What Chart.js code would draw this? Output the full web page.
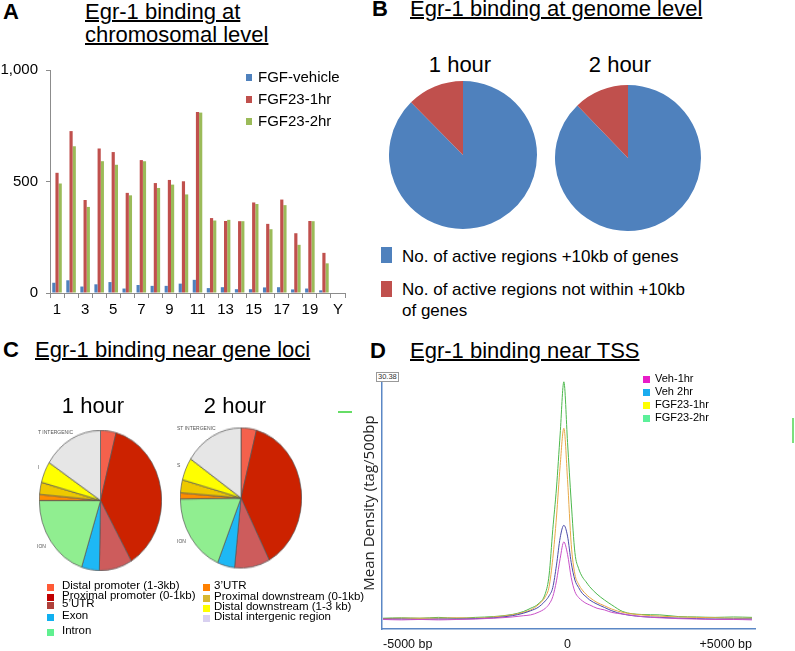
<!DOCTYPE html>
<html lang="en">
<head>
  <meta charset="UTF-8">
  <title>Egr-1 binding</title>
  <script src="https://cdn.jsdelivr.net/npm/chart.js"></script>
  <style>
    body { margin: 0; width: 795px; height: 651px; position: relative; overflow: hidden; background: #fff;
           font-family: "Liberation Sans", Arial, sans-serif; color: #000; }
    .abs { position: absolute; white-space: nowrap; }
    .letter { font-weight: bold; font-size: 22px; line-height: 23px; }
    .title { font-size: 22px; line-height: 23px; text-decoration: underline; text-decoration-thickness: 1.5px; }
    .sw { position: absolute; }
    .tiny { position: absolute; font-size: 5px; color: #555; white-space: nowrap; }
    .box { position: absolute; }
  </style>
</head>
<body>
  <div class="abs letter" style="left:3px;top:0px">A</div>
  <div class="abs title" style="left:85px;top:0px">Egr-1 binding at<br>chromosomal level</div>
  <div class="abs letter" style="left:372px;top:-3px">B</div>
  <div class="abs title" style="left:410px;top:-3px">Egr-1 binding at genome level</div>
  <div class="abs letter" style="left:3px;top:338px">C</div>
  <div class="abs title" style="left:35px;top:338px">Egr-1 binding near gene loci</div>
  <div class="abs letter" style="left:370px;top:339px">D</div>
  <div class="abs title" style="left:410px;top:339px">Egr-1 binding near TSS</div>

  <div class="box" style="left:0;top:53px;width:355px;height:270px"><canvas id="chartA"></canvas></div>
  <div class="box" style="left:389px;top:81px;width:148px;height:148px"><canvas id="chartB1"></canvas></div>
  <div class="box" style="left:555px;top:85px;width:146px;height:146px"><canvas id="chartB2"></canvas></div>
  <div class="box" style="left:39px;top:439px;width:123px;height:123px;transform:scaleY(1.146)"><canvas id="chartC1"></canvas></div>
  <div class="box" style="left:180px;top:437px;width:122px;height:122px;transform:scaleY(1.156)"><canvas id="chartC2"></canvas></div>
  <div class="box" style="left:361px;top:367px;width:399px;height:283px"><canvas id="chartD"></canvas></div>

  <div class="tiny" style="left:38px;top:429px">T INTERGENIC</div>
  <div class="tiny" style="left:38px;top:464px">I</div>
  <div class="tiny" style="left:37px;top:543px">ION</div>
  <div class="tiny" style="left:177px;top:425px">ST INTERGENIC</div>
  <div class="tiny" style="left:177px;top:462px">S</div>
  <div class="tiny" style="left:177px;top:538px">ION</div>

  <div id="yMaxLabel" class="abs" style="left:376px;top:372px;font-size:7.5px;line-height:8px;border:1px solid #999;background:#fff;color:#333;padding:0 1px;z-index:2"></div>
  <div class="abs" style="left:338px;top:411px;width:14px;height:1.5px;background:#66dd66"></div>
  <div class="abs" style="left:792px;top:418px;width:2px;height:25px;background:#7ce07c"></div>

  <div id="labels"></div>

  <script>
    // ---- A: peaks per chromosome
    const chromosomes = ['1','2','3','4','5','6','7','8','9','10','11','12','13','14','15','16','17','18','19','X','Y'];
    const vehicleCounts = [46, 57, 29, 39, 49, 20, 36, 32, 32, 42, 59, 22, 26, 17, 17, 25, 26, 16, 20, 12, 0];
    const fgf1hCounts = [539, 726, 417, 648, 632, 449, 596, 493, 507, 501, 812, 336, 323, 322, 406, 310, 419, 268, 323, 180, 0];
    const fgf2hCounts = [491, 658, 386, 591, 575, 438, 591, 471, 486, 442, 809, 325, 328, 322, 399, 286, 394, 216, 322, 133, 0];
    const barSeries = ['FGF-vehicle', 'FGF23-1hr', 'FGF23-2hr'];
    const barColors = ['#4f81bd', '#c0504d', '#9bbb59'];

    // ---- B: genome level (percent of regions)
    const genomeLabels = ['No. of active regions +10kb of genes', 'No. of active regions not within +10kb of genes'];
    const genomeColors = ['#4f81bd', '#c0504d'];
    const genome1h = [87.6, 12.4];
    const genome2h = [87.8, 12.2];

    // ---- C: gene loci (percent)
    const lociLabels = ['Distal promoter (1-3kb)', 'Proximal promoter (0-1kb)', '5’UTR', 'Exon', 'Intron',
                        '3’UTR', 'Proximal downstream (0-1kb)', 'Distal downstream (1-3 kb)', 'Distal intergenic region'];
    const lociPieColors = ['#f4614c', '#cc2200', '#cd5c5c', '#1eb8f5', '#90ee90', '#ff8c00', '#eec900', '#ffff00', '#e6e6e6'];
    const lociKeyColors = ['#ff5a36', '#c00000', '#b0403a', '#10b0f0', '#60f090', '#ff8000', '#d8b830', '#ffff00', '#d8d0f0'];
    const loci1h = [4.1, 37.5, 8.7, 4.7, 20.0, 1.4, 2.8, 4.9, 15.9];
    const loci2h = [4.1, 38.2, 9.4, 4.6, 18.5, 1.4, 3.0, 5.2, 15.6];

    // ---- D: mean tag density around TSS
    const tssPositions = [-5000, -4500, -4000, -3500, -3000, -2500, -2000, -1500, -1200, -1000, -800, -600, -500, -400, -300, -200, -100,
                          0, 100, 200, 300, 400, 500, 600, 800, 1000, 1200, 1500, 2000, 2500, 3000, 3500, 4000, 4500, 5000];
    const veh1h = [1.15, 1.1, 1.15, 1.1, 1.15, 1.2, 1.3, 1.45, 1.6, 1.7, 2.0, 2.5, 3.0, 3.9, 5.8, 8.5, 10.5,
                   9.0, 6.2, 4.5, 3.8, 3.4, 3.1, 2.9, 2.5, 2.3, 2.0, 1.8, 1.5, 1.35, 1.25, 1.2, 1.15, 1.15, 1.1];
    const veh2h = [1.2, 1.2, 1.15, 1.2, 1.2, 1.25, 1.35, 1.6, 1.9, 2.2, 2.6, 3.4, 4.0, 5.0, 7.7, 11.0, 12.5,
                   11.2, 8.0, 5.9, 5.0, 4.3, 3.9, 3.5, 3.0, 2.6, 2.2, 1.8, 1.5, 1.4, 1.3, 1.25, 1.2, 1.2, 1.2];
    const fgf23_1h = [1.25, 1.3, 1.3, 1.3, 1.35, 1.3, 1.45, 1.7, 2.0, 2.3, 2.9, 3.9, 5.1, 8.5, 13.5, 19.7, 24.2,
                      18.0, 10.2, 6.6, 5.4, 4.7, 4.2, 3.8, 3.2, 2.8, 2.4, 2.0, 1.7, 1.55, 1.45, 1.4, 1.35, 1.3, 1.3];
    const fgf23_2h = [1.3, 1.35, 1.3, 1.4, 1.3, 1.4, 1.5, 1.75, 2.1, 2.5, 3.0, 4.3, 6.5, 12.0, 17.0, 23.5, 29.8,
                      22.5, 15.3, 9.2, 7.3, 6.3, 5.7, 5.1, 4.2, 3.5, 2.9, 2.1, 1.75, 1.7, 1.5, 1.45, 1.4, 1.45, 1.4];
    const tssSeries = ['Veh-1hr', 'Veh 2hr', 'FGF23-1hr', 'FGF23-2hr'];
    const tssLineColors = ['#c850c8', '#4a4aa8', '#e8a848', '#4cb84c'];
    const tssKeyColors = ['#e81cc8', '#1aacef', '#ffff00', '#5cf09a'];
    const tssTickText = { '-5000': '-5000 bp', '0': '0', '5000': '+5000 bp' };
    const yMax = 30.38;

    Chart.defaults.font.family = '"Liberation Sans", Arial, sans-serif';
    Chart.defaults.animation = false;
    Chart.defaults.plugins.legend.display = false;
    Chart.defaults.plugins.tooltip.enabled = false;
    Chart.defaults.responsive = true;
    Chart.defaults.maintainAspectRatio = false;

    const labelsDiv = document.getElementById('labels');
    function addText(txt, x, cy, size, extra) {
      const d = document.createElement('div');
      d.className = 'abs';
      d.style.cssText = `left:${x}px;top:${cy - size * 0.6}px;font-size:${size}px;line-height:${size * 1.2}px;` + (extra || '');
      d.textContent = txt;
      labelsDiv.appendChild(d);
      return d;
    }
    function addSwatch(color, x, cy, w, h) {
      const s = document.createElement('div');
      s.className = 'sw';
      s.style.cssText = `left:${x}px;top:${cy - h / 2}px;width:${w}px;height:${h}px;background:${color}`;
      labelsDiv.appendChild(s);
    }

    // A
    const barData = [vehicleCounts, fgf1hCounts, fgf2hCounts];
    new Chart(document.getElementById('chartA'), {
      type: 'bar',
      data: {
        labels: chromosomes,
        datasets: barSeries.map((name, i) => ({
          label: name, data: barData[i], backgroundColor: barColors[i],
          categoryPercentage: 0.68, barPercentage: 1
        }))
      },
      options: {
        layout: { padding: { top: 10, right: 10, left: 0, bottom: 0 } },
        scales: {
          x: {
            grid: { display: true, drawOnChartArea: false, tickLength: 5, color: '#8c8c8c', offset: true },
            border: { color: '#8c8c8c' },
            ticks: { autoSkip: false, maxRotation: 0, padding: 3, color: '#000', font: { size: 15 },
                     callback: (v, i) => i % 2 === 0 ? chromosomes[i] : '' },
            afterFit: s => { s.height = 30; }
          },
          y: {
            min: 0, max: 1000,
            grid: { drawOnChartArea: false, tickLength: 4, color: '#8c8c8c' },
            border: { color: '#8c8c8c' },
            ticks: { stepSize: 500, padding: 8, color: '#000', font: { size: 15 } },
            afterFit: s => { s.width = 50; }
          }
        }
      }
    });
    barSeries.forEach((name, i) => {
      addSwatch(barColors[i], 246, 77 + i * 22, 6, 7);
      addText(name, 258, 77 + i * 22, 15);
    });

    // B
    function pie(id, values, colors, border) {
      new Chart(document.getElementById(id), {
        type: 'pie',
        data: { labels: colors.map((c, i) => i), datasets: [{ data: values, backgroundColor: colors,
                borderWidth: border ? 0.7 : 0, borderColor: '#555' }] },
        options: { layout: { padding: 0 } }
      });
    }
    pie('chartB1', genome1h, genomeColors, false);
    pie('chartB2', genome2h, genomeColors, false);
    addText('1 hour', 460, 65, 22, 'transform:translateX(-50%)');
    addText('2 hour', 620, 65, 22, 'transform:translateX(-50%)');
    addSwatch(genomeColors[0], 381, 255, 11, 16);
    addText(genomeLabels[0], 402, 257, 17);
    addSwatch(genomeColors[1], 381, 289, 11, 16);
    const bl = addText(genomeLabels[1], 402, 289, 17, 'white-space:normal;width:292px;line-height:21px;');
    bl.style.top = '278.5px';

    // C
    pie('chartC1', loci1h, lociPieColors, true);
    pie('chartC2', loci2h, lociPieColors, true);
    addText('1 hour', 93, 406, 22, 'transform:translateX(-50%)');
    addText('2 hour', 235, 406, 22, 'transform:translateX(-50%)');
    const lociKeyRows = [587, 597, 605, 617, 632, 587, 598, 608, 618];
    lociLabels.forEach((name, i) => {
      const left = i < 5;
      addSwatch(lociKeyColors[i], left ? 47 : 203, lociKeyRows[i], 7, 7);
      addText(name, left ? 62 : 214, lociKeyRows[i], 11.5, 'line-height:11px;');
    });

    // D
    const tssData = [veh1h, veh2h, fgf23_1h, fgf23_2h];
    new Chart(document.getElementById('chartD'), {
      type: 'line',
      data: {
        datasets: tssSeries.map((name, i) => ({
          label: name,
          data: tssPositions.map((x, j) => ({ x: x, y: tssData[i][j] })),
          borderColor: tssLineColors[i], borderWidth: 1, pointRadius: 0,
          cubicInterpolationMode: 'monotone', fill: false
        }))
      },
      options: {
        layout: { padding: { top: 10, right: 3, left: 0, bottom: 0 } },
        scales: {
          x: {
            type: 'linear', min: -5030, max: 5100,
            afterBuildTicks: s => { s.ticks = [{ value: -5000 }, { value: 0 }, { value: 5000 }]; },
            grid: { display: false, drawTicks: false },
            border: { color: '#5b87c5', width: 1.5 },
            ticks: { align: 'inner', padding: 8, color: '#111', font: { size: 12.5 },
                     callback: v => tssTickText[String(v)] },
            afterFit: s => { s.height = 21; }
          },
          y: {
            min: 0, max: yMax,
            grid: { display: false, drawTicks: false },
            border: { color: '#5b87c5', width: 1.5 },
            ticks: { display: false },
            title: { display: true, text: 'Mean Density (tag/500bp', color: '#222', padding: 0,
                     font: { family: '"Open Sans", sans-serif', size: 15 } },
            afterFit: s => { s.width = 21; }
          }
        }
      }
    });
    document.getElementById('yMaxLabel').textContent = yMax.toFixed(2);
    tssSeries.forEach((name, i) => {
      addSwatch(tssKeyColors[i], 643, 379 + i * 13, 7, 7);
      addText(name, 655, 379 + i * 13, 11);
    });
  </script>
</body>
</html>
